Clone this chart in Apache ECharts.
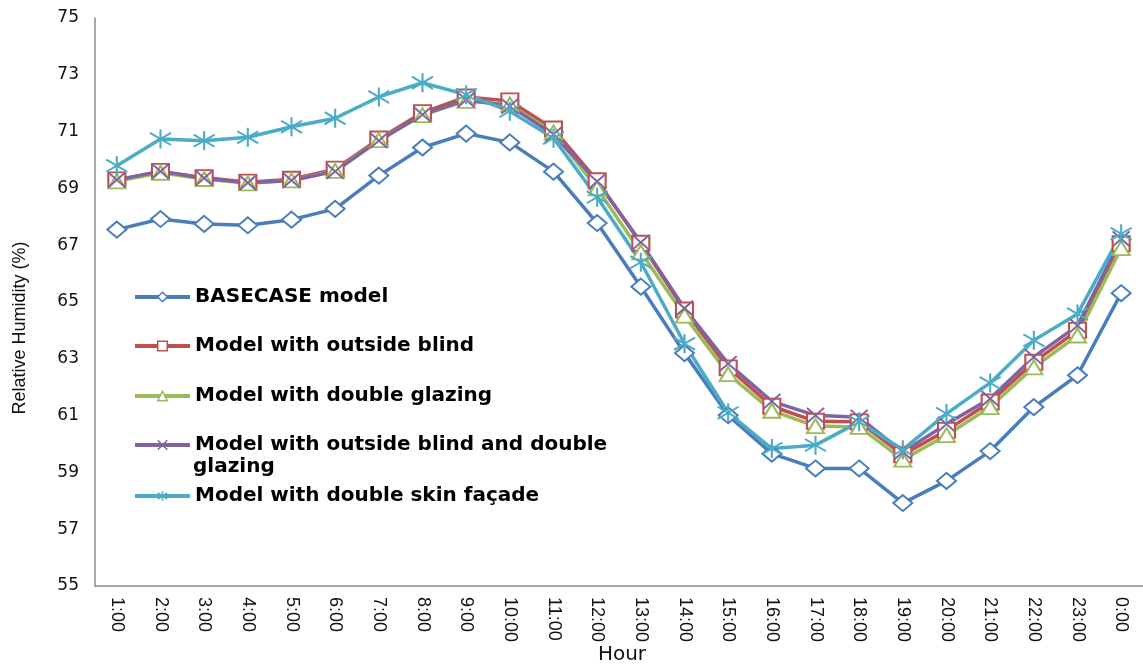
<!DOCTYPE html>
<html>
<head>
<meta charset="utf-8">
<script src="https://cdn.jsdelivr.net/npm/echarts@6/dist/echarts.min.js"></script>
<style>
html,body{margin:0;padding:0;background:#fff;}
#chart{width:1143px;height:664px;}
</style>
</head>
<body>
<div id="chart"></div>
<script>
const hours = ['1:00','2:00','3:00','4:00','5:00','6:00','7:00','8:00','9:00','10:00','11:00','12:00',
  '13:00','14:00','15:00','16:00','17:00','18:00','19:00','20:00','21:00','22:00','23:00','0:00'];

const basecase = [67.55,67.92,67.75,67.70,67.90,68.28,69.45,70.44,70.93,70.62,69.59,67.78,
  65.54,63.20,61.01,59.66,59.14,59.14,57.92,58.70,59.75,61.30,62.42,65.31];
const outsideBlind = [69.30,69.60,69.38,69.22,69.32,69.68,70.74,71.67,72.22,72.08,71.09,69.27,
  67.07,64.72,62.68,61.33,60.80,60.78,59.62,60.48,61.48,62.88,64.00,67.05];
const doubleGlazing = [69.25,69.55,69.33,69.18,69.28,69.62,70.70,71.58,72.08,71.95,70.97,69.00,
  66.75,64.52,62.46,61.17,60.63,60.60,59.45,60.31,61.30,62.70,63.82,66.90];
const blindAndGlazing = [69.30,69.60,69.36,69.20,69.28,69.60,70.68,71.60,72.12,71.90,70.90,69.25,
  67.10,64.78,62.83,61.50,61.01,60.94,59.72,60.70,61.60,63.06,64.17,67.22];
const doubleSkin = [69.80,70.74,70.68,70.80,71.17,71.47,72.22,72.72,72.30,71.72,70.77,68.69,
  66.40,63.53,61.10,59.84,59.96,60.78,59.80,61.07,62.15,63.65,64.58,67.40];

const names = ['BASECASE model','Model with outside blind','Model with double glazing',
  'Model with outside blind and double glazing','Model with double skin façade'];
const colors = ['#4a7ebb','#c0504d','#9bbb59','#8064a2','#4bacc6'];

const yTicks = {min:55, max:75, interval:2};

const X_PATH = 'path://M0,0L10,10M10,0L0,10';
const STAR_PATH = 'path://M5,0L5,10M0,1.8L10,8.2M10,1.8L0,8.2';

function mk(name, data, color, symbol, size, fill) {
  return {
    name: name, type: 'line', data: data,
    symbol: symbol, symbolSize: size,
    lineStyle: {color: color, width: 3.5},
    itemStyle: {color: fill, borderColor: color, borderWidth: 2},
    emphasis: {disabled: true},
    animation: false
  };
}

const legendFont = {fontFamily:'DejaVu Sans', fontWeight:'bold', fontSize:20, color:'#000'};
const legendTops = [297, 346, 396, 445, 496];
const legends = names.map((n, i) => ({
  data: [n], left: 133, top: legendTops[i] - 10, padding: 0,
  itemWidth: 55, itemHeight: 12, selectedMode: false,
  lineStyle: {width: 4},
  itemStyle: {borderWidth: 1.5},
  textStyle: Object.assign({lineHeight: 20}, legendFont),
  formatter: i === 3 ? 'Model with outside blind and double' : '{name}'
}));

const chart = echarts.init(document.getElementById('chart'));
chart.setOption({
  backgroundColor: '#fff',
  animation: false,
  grid: {left: 95, right: -3, top: 18, bottom: 78, containLabel: false},
  legend: legends,
  xAxis: {
    type: 'category', data: hours, boundaryGap: true,
    axisLine: {lineStyle: {color: '#8c8c8c', width: 1.5}},
    axisTick: {show: false},
    axisLabel: {rotate: -90, margin: 11, fontFamily: 'Liberation Sans', fontSize: 18, color: '#111'},
    splitLine: {show: false}
  },
  yAxis: {
    type: 'value', min: yTicks.min, max: yTicks.max, interval: yTicks.interval,
    axisLine: {show: true, lineStyle: {color: '#8c8c8c', width: 1.5}},
    axisTick: {show: false},
    axisLabel: {margin: 16, fontFamily: 'DejaVu Sans', fontSize: 17, color: '#111'},
    splitLine: {show: false}
  },
  graphic: [
    {type: 'text', x: 20, y: 328, rotation: Math.PI / 2,
     style: {text: 'Relative Humidity (%)', fontFamily: 'Liberation Sans', fontSize: 18,
       fill: '#111', align: 'center', verticalAlign: 'middle'}},
    {type: 'text', x: 622, y: 655,
     style: {text: 'Hour', fontFamily: 'DejaVu Sans', fontSize: 20,
       fill: '#111', align: 'center', verticalAlign: 'middle'}},
    {type: 'text', x: 193, y: 467,
     style: Object.assign({text: 'glazing', fill: '#000', align: 'left', verticalAlign: 'middle'},
       {fontFamily: 'DejaVu Sans', fontWeight: 'bold', fontSize: 20})}
  ],
  series: [
    mk(names[0], basecase, colors[0], 'diamond', [19, 16], '#fff'),
    mk(names[1], outsideBlind, colors[1], 'rect', [17, 15], '#fff'),
    mk(names[2], doubleGlazing, colors[2], 'triangle', [17, 14], '#fff'),
    mk(names[3], blindAndGlazing, colors[3], X_PATH, [17, 15], colors[3]),
    mk(names[4], doubleSkin, colors[4], STAR_PATH, [21, 19], colors[4])
  ]
});
</script>
</body>
</html>
